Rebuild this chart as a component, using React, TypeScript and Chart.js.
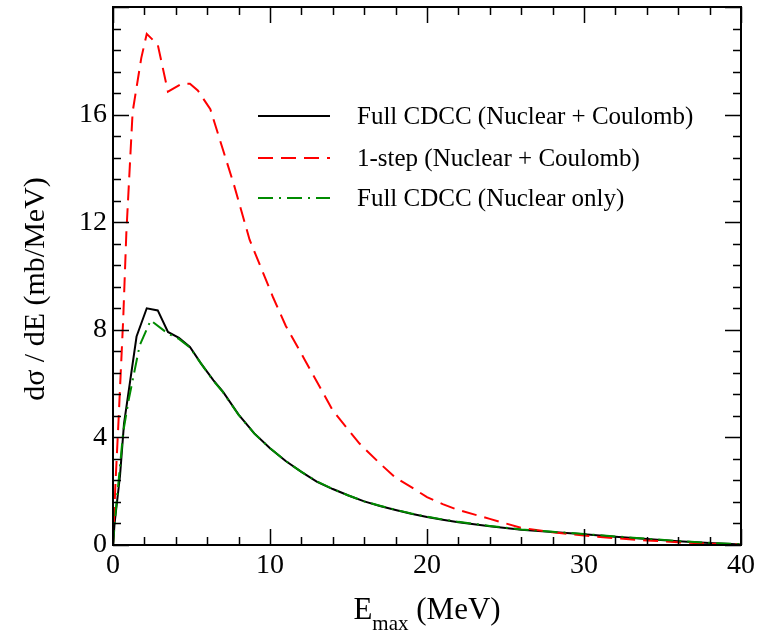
import React, { useEffect, useRef } from "react";
import { Chart, registerables } from "chart.js";

Chart.register(...registerables);

const FONT = '"Liberation Serif", "Times New Roman", Times, serif';

// Full CDCC (Nuclear + Coulomb)
const xFull = [0, 0.1, 0.45, 0.7, 1.5, 2.15, 2.85, 3.5, 4.2, 4.9, 5.6, 6.4, 7, 8, 9, 10, 11, 12, 13, 14, 15, 16, 17, 18, 19, 20, 21, 22, 24, 26, 28, 30, 32, 34, 36, 38, 40];
const yFull = [0, 0.8, 2.6, 4.5, 7.75, 8.8, 8.72, 7.92, 7.7, 7.36, 6.75, 6.12, 5.7, 4.85, 4.15, 3.6, 3.12, 2.72, 2.35, 2.08, 1.84, 1.62, 1.45, 1.3, 1.16, 1.04, 0.94, 0.85, 0.7, 0.57, 0.48, 0.4, 0.31, 0.22, 0.14, 0.07, 0.02];

// 1-step (Nuclear + Coulomb)
const xOneStep = [0, 0.15, 0.35, 0.65, 0.85, 1.25, 1.8, 2.15, 2.85, 3.5, 4.4, 4.9, 5.4, 6.2, 7.0, 7.7, 8.7, 10.2, 11, 12.2, 14, 15.7, 17, 18, 19, 20, 21, 22, 24, 26, 28, 30, 32, 34, 36, 38, 40];
const yOneStep = [0, 2.2, 4.6, 8.4, 11.6, 16.1, 18.1, 19.0, 18.6, 16.85, 17.15, 17.15, 16.9, 16.2, 14.7, 13.4, 11.35, 9.2, 8.15, 6.9, 5.0, 3.77, 3.03, 2.5, 2.15, 1.78, 1.52, 1.3, 0.97, 0.64, 0.47, 0.35, 0.25, 0.17, 0.1, 0.05, 0.01];

// Full CDCC (Nuclear only)
const xNuclear = [0, 0.15, 0.65, 1.0, 1.7, 2.4, 3.5, 4.2, 4.9, 5.6, 6.4, 7, 8, 9, 10, 11, 12, 13, 14, 15, 16, 17, 18, 19, 20, 21, 22, 24, 26, 28, 30, 32, 34, 36, 38, 40];
const yNuclear = [0, 1.1, 4.2, 5.4, 7.42, 8.35, 7.86, 7.66, 7.34, 6.75, 6.1, 5.68, 4.84, 4.14, 3.6, 3.12, 2.72, 2.36, 2.08, 1.84, 1.62, 1.46, 1.31, 1.17, 1.05, 0.95, 0.86, 0.71, 0.58, 0.49, 0.41, 0.32, 0.23, 0.15, 0.08, 0.03];

const seriesLabels = ["Full CDCC (Nuclear + Coulomb)", "1-step (Nuclear + Coulomb)", "Full CDCC (Nuclear only)"];

const xMin = 0, xMax = 40, xMajor = 10, xMinor = 2;
const yMin = 0, yMax = 20, yMajor = 4, yMinor = 0.8;

const toPts = (xs: number[], ys: number[]) => xs.map((x, i) => ({ x, y: ys[i] }));

const framePlugin = {
  id: "frame",
  afterDraw(chart: any) {
    const { ctx, chartArea: a, scales } = chart;
    const xs = scales.x, ys = scales.y;
    ctx.save();
    ctx.strokeStyle = "#000";
    // ticks
    ctx.lineWidth = 1.5;
    const eps = 1e-6;
    for (let v = xMin; v <= xMax + eps; v += xMinor) {
      const isMajor = Math.abs(v / xMajor - Math.round(v / xMajor)) < 1e-6;
      const len = isMajor ? 16 : 8;
      const px = Math.round(xs.getPixelForValue(v)) + 0.5;
      ctx.beginPath();
      ctx.moveTo(px, a.bottom); ctx.lineTo(px, a.bottom - len);
      ctx.moveTo(px, a.top); ctx.lineTo(px, a.top + len);
      ctx.stroke();
    }
    for (let i = 0; yMin + i * yMinor <= yMax + eps; i++) {
      const v = yMin + i * yMinor;
      const isMajor = i % 5 === 0;
      const len = isMajor ? 16 : 8;
      const py = Math.round(ys.getPixelForValue(v)) + 0.5;
      ctx.beginPath();
      ctx.moveTo(a.left, py); ctx.lineTo(a.left + len, py);
      ctx.moveTo(a.right, py); ctx.lineTo(a.right - len, py);
      ctx.stroke();
    }
    // frame
    ctx.lineWidth = 2;
    ctx.strokeRect(a.left, a.top, a.right - a.left, a.bottom - a.top);

    // legend
    const ds = chart.data.datasets;
    const rows = [116, 158, 198];
    ctx.font = `25px ${FONT}`;
    ctx.fillStyle = "#000";
    ctx.textAlign = "left";
    ctx.textBaseline = "middle";
    for (let i = 0; i < ds.length; i++) {
      const d = ds[i];
      ctx.save();
      ctx.strokeStyle = d.borderColor;
      ctx.lineWidth = d.borderWidth;
      ctx.setLineDash(d.borderDash || []);
      ctx.beginPath();
      ctx.moveTo(258, rows[i]);
      ctx.lineTo(330, rows[i]);
      ctx.stroke();
      ctx.restore();
      ctx.fillText(d.label, 357, rows[i] + 1);
    }

    // x axis title: E_max (MeV)
    const big = 31, small = 21;
    ctx.textBaseline = "alphabetic";
    ctx.font = `${big}px ${FONT}`;
    const wE = ctx.measureText("E").width;
    const wRest = ctx.measureText(" (MeV)").width;
    ctx.font = `${small}px ${FONT}`;
    const wSub = ctx.measureText("max").width;
    const total = wE + wSub + wRest;
    let sx = (a.left + a.right) / 2 - total / 2;
    const base = 619;
    ctx.font = `${big}px ${FONT}`;
    ctx.fillText("E", sx, base);
    sx += wE;
    ctx.font = `${small}px ${FONT}`;
    ctx.fillText("max", sx, base + 11);
    sx += wSub;
    ctx.font = `${big}px ${FONT}`;
    ctx.fillText(" (MeV)", sx, base);

    // y axis title
    ctx.save();
    ctx.translate(44, 289);
    ctx.rotate(-Math.PI / 2);
    ctx.font = `30px ${FONT}`;
    ctx.textAlign = "center";
    ctx.textBaseline = "alphabetic";
    ctx.fillText("d\u03c3 / dE (mb/MeV)", 0, 0);
    ctx.restore();

    ctx.restore();
  },
};

export default function App() {
  const ref = useRef<HTMLCanvasElement>(null);
  useEffect(() => {
    document.body.style.margin = "0";
    const canvas = ref.current!;
    const chart = new Chart(canvas, {
      type: "line",
      data: {
        datasets: [
          {
            label: seriesLabels[0],
            data: toPts(xFull, yFull),
            borderColor: "#000000",
            borderWidth: 2,
            pointRadius: 0,
            tension: 0,
            order: 2,
          },
          {
            label: seriesLabels[1],
            data: toPts(xOneStep, yOneStep),
            borderColor: "#ff0000",
            borderWidth: 2,
            borderDash: [15, 8],
            pointRadius: 0,
            tension: 0,
            order: 1,
          },
          {
            label: seriesLabels[2],
            data: toPts(xNuclear, yNuclear),
            borderColor: "rgb(0,139,0)",
            borderWidth: 2,
            borderDash: [15, 6, 2, 6],
            pointRadius: 0,
            tension: 0,
            order: 0,
          },
        ],
      } as any,
      options: {
        responsive: false,
        animation: false,
        devicePixelRatio: 1,
        layout: { padding: { top: 7, right: 16, left: 0, bottom: 0 } },
        plugins: { legend: { display: false }, tooltip: { enabled: false } },
        elements: { point: { radius: 0 } },
        scales: {
          x: {
            type: "linear",
            min: xMin,
            max: xMax,
            ticks: {
              stepSize: xMajor,
              font: { family: FONT, size: 28 },
              color: "#000",
              padding: 4,
              maxRotation: 0,
            },
            grid: { display: false, drawTicks: false },
            border: { display: false },
            afterFit: (s: any) => {
              s.height = 89;
              s.paddingLeft = 0;
              s.paddingRight = 0;
            },
          },
          y: {
            type: "linear",
            min: yMin,
            max: yMax,
            ticks: {
              stepSize: yMajor,
              font: { family: FONT, size: 28 },
              color: "#000",
              padding: 6,
            },
            afterBuildTicks: (s: any) => {
              s.ticks = s.ticks.filter((t: any) => t.value < yMax);
            },
            grid: { display: false, drawTicks: false },
            border: { display: false },
            afterFit: (s: any) => {
              s.width = 113;
              s.paddingTop = 0;
              s.paddingBottom = 0;
            },
          },
        },
      } as any,
      plugins: [framePlugin],
    });
    return () => chart.destroy();
  }, []);
  return <canvas ref={ref} width={757} height={634} style={{ display: "block" }} />;
}
